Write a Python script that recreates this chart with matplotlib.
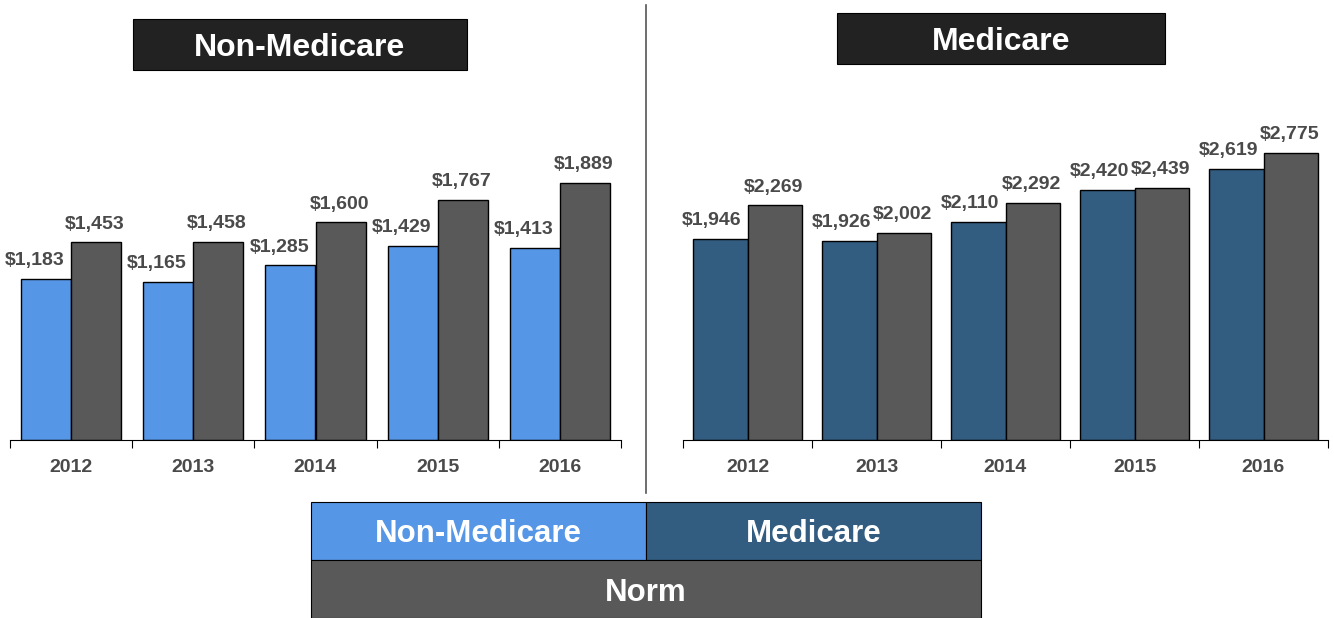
import matplotlib.pyplot as plt
from matplotlib.patches import Rectangle

plt.rcParams["font.family"] = ["Liberation Sans", "DejaVu Sans"]

years = ["2012", "2013", "2014", "2015", "2016"]
non_medicare = [1183, 1165, 1285, 1429, 1413]
non_medicare_norm = [1453, 1458, 1600, 1767, 1889]
medicare = [1946, 1926, 2110, 2420, 2619]
medicare_norm = [2269, 2002, 2292, 2439, 2775]

BLUE = "#5596e6"
DARK_BLUE = "#325c80"
GRAY = "#595959"
TEXT = "#4a4a4a"

fig = plt.figure(figsize=(13.34, 6.18), dpi=100)


def draw_panel(ax, group, norm, color, ymax, bar_w, dx):
    x = list(range(len(years)))
    ax.bar([i - bar_w / 2 for i in x], group, width=bar_w, color=color,
           edgecolor="black", linewidth=1.0)
    ax.bar([i + bar_w / 2 for i in x], norm, width=bar_w, color=GRAY,
           edgecolor="black", linewidth=1.0)
    for i in x:
        ax.annotate(f"${group[i]:,}", (i - bar_w / 2, group[i]),
                    xytext=(dx, 7), textcoords="offset points",
                    ha="center", va="bottom", fontsize=14,
                    fontweight="bold", color=TEXT)
        ax.annotate(f"${norm[i]:,}", (i + bar_w / 2, norm[i]),
                    xytext=(-1, 7), textcoords="offset points",
                    ha="center", va="bottom", fontsize=14,
                    fontweight="bold", color=TEXT)
    ax.set_xlim(-0.5, len(years) - 0.5)
    ax.set_ylim(0, ymax)
    for s in ["top", "left", "right"]:
        ax.spines[s].set_visible(False)
    ax.spines["bottom"].set_color("black")
    ax.set_yticks([])
    ax.set_xticks([i - 0.5 for i in range(len(years) + 1)])
    ax.set_xticklabels([])
    ax.tick_params(axis="x", which="major", length=6, color="black")
    ax.set_xticks(x, minor=True)
    ax.set_xticklabels(years, minor=True, fontsize=14, fontweight="bold",
                       color=TEXT)
    ax.tick_params(axis="x", which="minor", length=0, pad=14)


ax1 = fig.add_axes([10 / 1334, 178 / 618, 611 / 1334, 340 / 618])
draw_panel(ax1, non_medicare, non_medicare_norm, BLUE, 2500, 0.41, -8)

ax2 = fig.add_axes([683 / 1334, 178 / 618, 645 / 1334, 340 / 618])
draw_panel(ax2, medicare, medicare_norm, DARK_BLUE, 3288, 0.42, -6)


def box(x0, y0, x1, y1, color, label, size=20, shift=3):
    # pixel coords, y from top
    fig.patches.append(Rectangle((x0 / 1334, 1 - y1 / 618), (x1 - x0) / 1334,
                                 (y1 - y0) / 618, transform=fig.transFigure,
                                 facecolor=color, edgecolor="black",
                                 linewidth=0.8))
    fig.text((x0 + x1) / 2 / 1334, 1 - ((y0 + y1) / 2 + shift) / 618, label,
             ha="center", va="center", color="white", fontsize=size,
             fontweight="bold")


# panel titles
box(133, 19, 467, 70, "#222222", "Non-Medicare", 23)
box(837, 13, 1165, 64, "#222222", "Medicare", 23)

# divider
fig.add_artist(plt.Line2D([646 / 1334, 646 / 1334], [1 - 5 / 618, 1 - 493 / 618],
                          transform=fig.transFigure, color="#555555",
                          linewidth=1.2))

# legend blocks
box(311, 502, 646, 560, BLUE, "Non-Medicare", 22.5)
box(646, 502, 981, 560, DARK_BLUE, "Medicare", 22.5)
box(311, 560, 981, 618, GRAY, "Norm", 22.5, shift=4)

fig.savefig("out.png", dpi=100)
